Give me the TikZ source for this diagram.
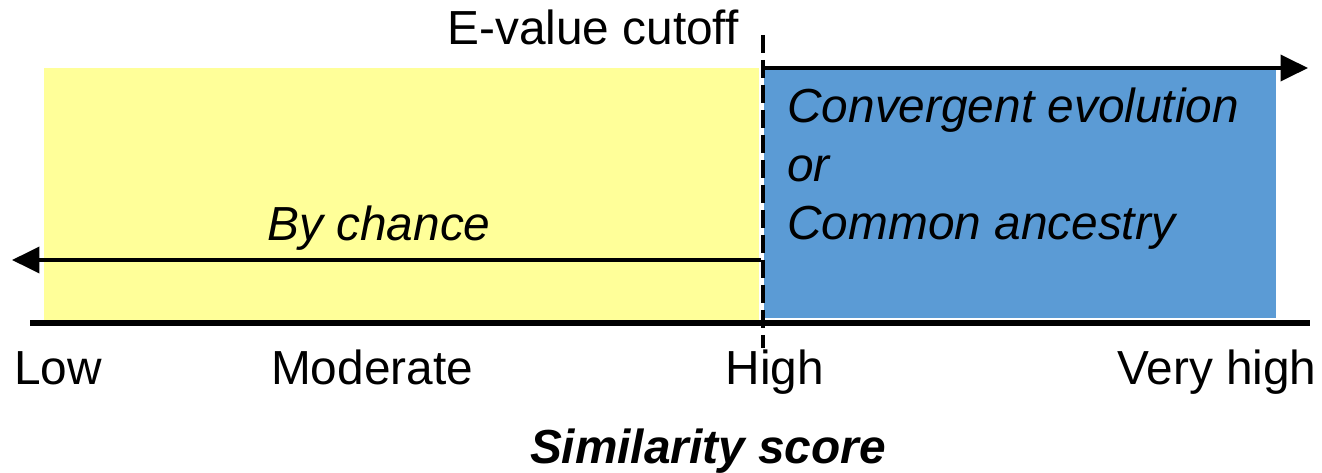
\documentclass[tikz,border=0pt]{standalone}
\usepackage{fontspec}
\setmainfont{Liberation Sans}
\usetikzlibrary{positioning,arrows.meta}
\definecolor{amarillo}{RGB}{255,255,153}
\definecolor{azul}{RGB}{91,155,213}

\begin{document}
\begin{tikzpicture}[x=0.02cm, y=-0.02cm,
  etiqueta/.style={font=\fontsize{27.2}{32}\selectfont, inner sep=0pt, anchor=base},
  cursiva/.style={etiqueta, font=\fontsize{27.2}{32}\selectfont\itshape},
  flecha/.style={-{Triangle[length=0.55cm, width=0.52cm]}, line width=2.2pt}
]
\useasboundingbox (0,0) rectangle (1322,473);
% Zonas
\fill[amarillo] (44,68) rectangle (759,322);
\fill[azul] (764,68) rectangle (1276,318);
% Puntos de referencia
\coordinate (corte) at (763,68);
\coordinate (corteb) at (761,260);
\coordinate (der) at (1308,68);
\coordinate (izq) at (12,260);
\coordinate (ejeizq) at (30,323);
\coordinate (ejeder) at (1310,323);
\coordinate (cortesup) at (763,35);
\coordinate (corteinf) at (763,348);
% Eje y flechas
\draw[line width=3.4pt] (ejeizq) -- (ejeder);
\draw[flecha] (corte) -- (der);
\draw[flecha] (corteb) -- (izq);
\draw[line width=2.1pt, dash pattern=on 0.36cm off 0.14cm] (cortesup) -- (corteinf);
% Textos
\node[etiqueta] (cutoff) at (593,45) {E-value cutoff};
\node[cursiva] (azar) at (379,240) {By chance};
\node[cursiva, anchor=base west] (conv) at (787,123) {Convergent evolution};
\node[cursiva, anchor=base west] (o) at (787,181) {or};
\node[cursiva, anchor=base west] (comun) at (787,239) {Common ancestry};
\node[etiqueta] (bajo) at (58,384) {Low};
\node[etiqueta] (moderado) at (372,384) {Moderate};
\node[etiqueta] (alto) at (775,384) {High};
\node[etiqueta] (muyalto) at (1217,384) {Very high};
\node[etiqueta, font=\fontsize{27.2}{32}\selectfont\bfseries\itshape] (titulo) at (708,463) {Similarity score};
\end{tikzpicture}
\end{document}
